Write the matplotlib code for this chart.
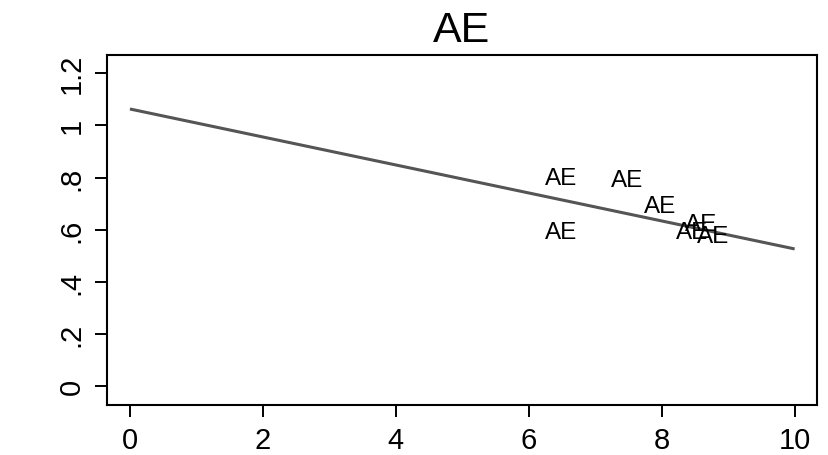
import matplotlib
matplotlib.use("Agg")
import matplotlib.pyplot as plt

# values
point_x = [6.48, 7.48, 7.98, 6.48, 8.45, 8.60, 8.77]
point_y = [0.80, 0.79, 0.69, 0.59, 0.59, 0.62, 0.575]
point_label = "AE"

fit_x = [0.0, 10.0]
fit_y = [1.063, 0.526]

x_ticks = [0, 2, 4, 6, 8, 10]
y_ticks = [0, 0.2, 0.4, 0.6, 0.8, 1.0, 1.2]
y_tick_labels = ["0", ".2", ".4", ".6", ".8", "1", "1.2"]

plt.rcParams["font.family"] = ["Liberation Sans", "DejaVu Sans"]

fig = plt.figure(figsize=(8.29, 4.56), dpi=100)
ax = fig.add_axes([0.129, 0.1096, 0.856, 0.7675])

ax.plot(fit_x, fit_y, color="#555555", linewidth=2.2, solid_capstyle="butt")
for x, y in zip(point_x, point_y):
    ax.text(x, y, point_label, ha="center", va="center", fontsize=17.5, color="black")

ax.set_xlim(-0.346, 10.33)
ax.set_ylim(-0.073, 1.270)
ax.set_xticks(x_ticks)
ax.set_xticklabels([str(t) for t in x_ticks])
ax.set_yticks(y_ticks)
ax.set_yticklabels(y_tick_labels, rotation=90, va="center")

ax.tick_params(axis="both", direction="out", length=8.6, width=1.4,
               labelsize=21, pad=6.8, color="black")
for sp in ax.spines.values():
    sp.set_linewidth(1.5)
    sp.set_color("black")

ax.set_title("AE", fontsize=31, pad=10)

fig.savefig("out.png", dpi=100)
